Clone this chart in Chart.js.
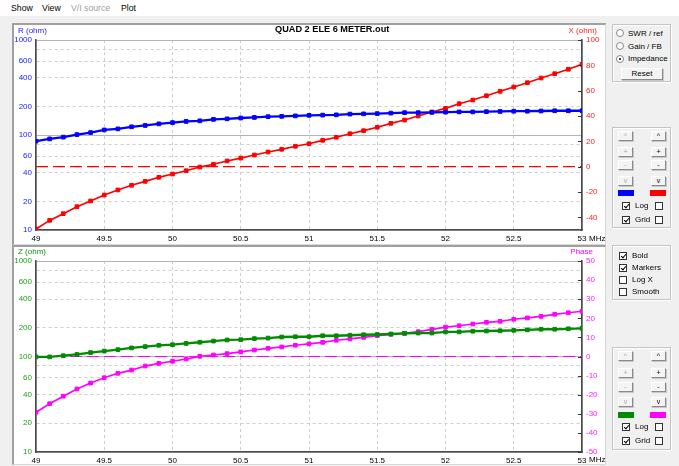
<!DOCTYPE html>
<html><head><meta charset="utf-8">
<script src="https://cdn.jsdelivr.net/npm/chart.js@4.4.1/dist/chart.umd.min.js"></script>
<style>
*{box-sizing:border-box}
html,body{margin:0;padding:0}
body{width:679px;height:466px;overflow:hidden;background:#f0f0f0;position:relative;font-family:"Liberation Sans",Arial,sans-serif;color:#000}
.a{position:absolute;white-space:nowrap}
#menu{left:0;top:0;width:679px;height:16px;background:#fff}
.mi{position:absolute;top:3px;font-size:8.7px;line-height:10px}
.panel{position:absolute;background:#fff;border-style:solid;border-color:#a0a0a0 #d8d8d8 #d8d8d8 #a0a0a0;border-width:2px 1px 1px 2px}
.gb{position:absolute;border:1px solid #c4c4c4;box-shadow:inset 1px 1px 0 #fff,1px 1px 0 #fff}
.btn{position:absolute;width:15px;height:10px;background:#f4f4f4;border:1px solid;border-color:#fff #8a8a8a #8a8a8a #fff;box-shadow:1px 1px 0 #c8c8c8;font-size:7px;line-height:8px;text-align:center;color:#000}
.btn.dis{color:#a8a8a8}
.sw{position:absolute;width:16px;height:6px}
.cb{position:absolute;width:8px;height:8px;border:1px solid #333;background:#fff}
.cb.on::after{content:"";position:absolute;left:2px;top:0px;width:2px;height:4px;border:solid #000;border-width:0 1.3px 1.3px 0;transform:rotate(40deg)}
.rb{position:absolute;width:8px;height:8px;border-radius:50%;border:1px solid #8a8a8a;background:#fff}
.rb.on::after{content:"";position:absolute;left:2px;top:2px;width:2px;height:2px;border-radius:50%;background:#000}
.t8{font-size:8px;line-height:9px}
canvas{position:absolute}
</style>
</head>
<body>
<div id="menu" class="a"></div>
<div class="mi" style="left:11px">Show</div>
<div class="mi" style="left:42px">View</div>
<div class="mi" style="left:71px;color:#a0a0a0">V/I source</div>
<div class="mi" style="left:121px">Plot</div>

<div class="panel" style="left:12px;top:23px;width:594px;height:222px"></div>
<div class="panel" style="left:12px;top:245px;width:594px;height:220px"></div>

<canvas id="c1" width="590" height="219" style="left:14px;top:25px"></canvas>
<canvas id="c2" width="590" height="219" style="left:14px;top:246px"></canvas>

<div class="a" style="left:275px;top:24px;font-size:9.2px;font-weight:bold;line-height:10px">QUAD 2 ELE 6 METER.out</div>
<div class="a t8" style="left:18px;top:26px;color:#2020ff">R (ohm)</div>
<div class="a t8" style="right:82px;top:26px;color:#ff2020">X (ohm)</div>
<div class="a t8" style="left:18px;top:247px;color:#109010">Z (ohm)</div>
<div class="a t8" style="right:86px;top:247px;color:#ff00ff">Phase</div>
<div class="a t8" style="left:589px;top:234px">MHz</div>
<div class="a t8" style="left:589px;top:455px">MHz</div>

<!-- box 1 -->
<div class="gb" style="left:612px;top:24px;width:59px;height:58px"></div>
<div class="rb" style="left:616px;top:29px"></div><div class="a t8" style="left:628px;top:29px">SWR / ref</div>
<div class="rb" style="left:616px;top:42px"></div><div class="a t8" style="left:628px;top:42px">Gain / FB</div>
<div class="rb on" style="left:616px;top:55px"></div><div class="a t8" style="left:628px;top:54px">Impedance</div>
<div class="btn" style="left:621px;top:68px;width:42px;height:12px;line-height:10px;font-size:8px">Reset</div>

<!-- box 2 -->
<div class="gb" style="left:612px;top:127px;width:59px;height:101px"></div>
<div class="btn dis" style="left:618px;top:131px">^</div><div class="btn" style="left:651px;top:131px">^</div>
<div class="btn dis" style="left:618px;top:147px">+</div><div class="btn" style="left:651px;top:147px">+</div>
<div class="btn dis" style="left:618px;top:160px">-</div><div class="btn" style="left:651px;top:160px">-</div>
<div class="btn dis" style="left:618px;top:176px">v</div><div class="btn" style="left:651px;top:176px">v</div>
<div class="sw" style="left:618px;top:190px;background:#0000ff"></div><div class="sw" style="left:650px;top:190px;background:#ff0000"></div>
<div class="cb on" style="left:622px;top:202px"></div><div class="a t8" style="left:635px;top:201px">Log</div><div class="cb" style="left:655px;top:202px"></div>
<div class="cb on" style="left:622px;top:216px"></div><div class="a t8" style="left:635px;top:215px">Grid</div><div class="cb" style="left:655px;top:216px"></div>

<!-- box 3 -->
<div class="gb" style="left:612px;top:245px;width:59px;height:55px"></div>
<div class="cb on" style="left:619px;top:252px"></div><div class="a t8" style="left:632px;top:251px">Bold</div>
<div class="cb on" style="left:619px;top:264px"></div><div class="a t8" style="left:632px;top:263px">Markers</div>
<div class="cb" style="left:619px;top:276px"></div><div class="a t8" style="left:632px;top:275px">Log X</div>
<div class="cb" style="left:619px;top:288px"></div><div class="a t8" style="left:632px;top:287px">Smooth</div>

<!-- box 4 -->
<div class="gb" style="left:612px;top:347px;width:59px;height:103px"></div>
<div class="btn dis" style="left:618px;top:351px">^</div><div class="btn" style="left:651px;top:351px">^</div>
<div class="btn dis" style="left:618px;top:368px">+</div><div class="btn" style="left:651px;top:368px">+</div>
<div class="btn dis" style="left:618px;top:382px">-</div><div class="btn" style="left:651px;top:382px">-</div>
<div class="btn dis" style="left:618px;top:397px">v</div><div class="btn" style="left:651px;top:397px">v</div>
<div class="sw" style="left:618px;top:412px;background:#008c00"></div><div class="sw" style="left:650px;top:412px;background:#ff00ff"></div>
<div class="cb on" style="left:622px;top:423px"></div><div class="a t8" style="left:635px;top:422px">Log</div><div class="cb" style="left:655px;top:423px"></div>
<div class="cb on" style="left:622px;top:437px"></div><div class="a t8" style="left:635px;top:436px">Grid</div><div class="cb" style="left:655px;top:437px"></div>

<script>
// ---- data ----
const freq = [49.0,49.1,49.2,49.3,49.4,49.5,49.6,49.7,49.8,49.9,50.0,50.1,50.2,50.3,50.4,50.5,50.6,50.7,50.8,50.9,51.0,51.1,51.2,51.3,51.4,51.5,51.6,51.7,51.8,51.9,52.0,52.1,52.2,52.3,52.4,52.5,52.6,52.7,52.8,52.9,53.0];
const rOhm = [86,91,95,101,106,113,116,122,126,131,135,139,141,146,148,151,153,156,157,159,161,162,163,166,167,168,170,172,172,173,174,175,175,176,177,178,178,179,180,180,180];
const xOhm = [-49.2,-42.4,-37.1,-31.6,-27.1,-22.4,-18.4,-14.7,-11.6,-8.4,-5.8,-3.2,-0.3,1.9,4.5,6.8,9.2,11.6,13.7,16.1,18.1,20.8,23.2,26.0,28.4,31.1,34.2,36.8,40.0,43.2,46.0,49.7,52.6,56.0,59.5,62.9,66.3,70.0,73.4,76.9,80.8];
const zOhm = [99,99,102,105,110,114,118,123,127,131,133,137,141,145,149,150,154,156,160,161,161,165,165,167,169,170,172,175,176,176,181,181,184,185,186,188,190,193,193,195,197];
const phaseDeg = [-29.2,-24.7,-20.8,-17.0,-13.9,-11.1,-8.8,-7.1,-5.0,-3.6,-2.5,-1.3,0.1,0.8,1.5,2.4,3.4,4.3,5.0,5.9,6.6,7.4,8.5,9.2,10.0,10.9,11.6,12.1,13.0,14.2,15.4,16.1,17.0,17.9,18.4,19.5,20.2,21.0,22.1,22.9,23.7];
const freqTicks = [49,49.5,50,50.5,51,51.5,52,52.5,53];
const freqTickLabels = ['49','49.5','50','50.5','51','51.5','52','52.5','53'];
const logTicks = [10,20,40,60,80,100,200,400,600,800,1000];
const logTickLabels = ['10','20','40','60','','100','200','400','600','','1000'];
const xOhmTicks = [-40,-20,0,20,40,60,80,100];
const phaseTicks = [-50,-40,-30,-20,-10,0,10,20,30,40,50];
const zeroLine = [0,0];

Chart.defaults.font.family = "'Liberation Sans', Arial, sans-serif";
Chart.defaults.font.size = 8;

const pts = ys => freq.map((f,i)=>({x:f,y:ys[i]}));
const zeroPts = () => [{x:freq[0],y:zeroLine[0]},{x:freq[freq.length-1],y:zeroLine[1]}];

const innerTicks = {
  id:'innerTicks',
  afterDraw(chart){
    const s = chart.scales.y2, ctx = chart.ctx;
    ctx.save(); ctx.strokeStyle='#333'; ctx.lineWidth=1;
    s.ticks.forEach(t=>{
      const y = Math.round(s.getPixelForValue(t.value))+0.5;
      ctx.beginPath(); ctx.moveTo(s.left-4,y); ctx.lineTo(s.left,y); ctx.stroke();
    });
    ctx.restore();
  }
};

function makeChart(id, o){
  const solid = v => v===100 || v===1000 || v===10;
  return new Chart(document.getElementById(id), {
    type:'line',
    data:{datasets:[
      {data:pts(o.left), yAxisID:'y', borderColor:o.lc, backgroundColor:o.lc, borderWidth:2.3,
       pointStyle:'rect', pointRadius:2.6, pointBorderWidth:1, tension:0, order:1},
      {data:pts(o.right), yAxisID:'y2', borderColor:o.rc, backgroundColor:o.rc, borderWidth:1.7,
       pointStyle:'rect', pointRadius:2.6, pointBorderWidth:1, tension:0, order:2},
      {data:zeroPts(), yAxisID:'y2', borderColor:o.rc, borderWidth:1.2, borderDash:[12,5],
       pointRadius:0, tension:0, order:5}
    ]},
    options:{
      responsive:false, animation:false, devicePixelRatio:1,
      layout:{padding:{top:15,left:0,right:0,bottom:0}},
      plugins:{legend:{display:false}, tooltip:{enabled:false}},
      scales:{
        x:{type:'linear', min:49, max:53,
          afterBuildTicks:s=>{s.ticks = freqTicks.map(v=>({value:v}));},
          afterFit:s=>{s.height = o.xh;},
          ticks:{color:'#000', padding:4, maxRotation:0, autoSkip:false,
            callback:(v,i)=>freqTickLabels[i]},
          grid:{color:'#cdcdcd', drawTicks:false, lineWidth:1},
          border:{color:'#4a4a4a', width:1.6, dash:c=>(c.tick && (c.tick.value===49||c.tick.value===53))?[]:[3,3]}
        },
        y:{type:'logarithmic', position:'left', min:10, max:1000,
          afterBuildTicks:s=>{s.ticks = logTicks.map(v=>({value:v}));},
          afterFit:s=>{s.width = 22;},
          ticks:{color:o.lt, padding:4, autoSkip:false, callback:(v,i)=>logTickLabels[i]},
          grid:{color:c=>(c.tick && solid(c.tick.value))?'#b4b4b4':'#cdcdcd', drawTicks:false, lineWidth:1},
          border:{color:'#4a4a4a', width:1.6, dash:c=>(c.tick && solid(c.tick.value))?[]:[3,3]}
        },
        y2:{type:'linear', position:'right', min:o.rmin, max:o.rmax,
          afterBuildTicks:s=>{s.ticks = o.rticks.map(v=>({value:v}));},
          afterFit:s=>{s.width = 22;},
          ticks:{color:o.rt, padding:4, autoSkip:false, callback:v=>String(v)},
          grid:{display:false, drawTicks:false},
          border:{color:'#4a4a4a', width:1.6}
        }
      }
    },
    plugins:[innerTicks]
  });
}

makeChart('c1', {left:rOhm, right:xOhm, lc:'#0000ff', rc:'#ff0000', lt:'#2020ff', rt:'#ff2020',
  rmin:-50, rmax:100, rticks:xOhmTicks, xh:14});
makeChart('c2', {left:zOhm, right:phaseDeg, lc:'#008c00', rc:'#ff00ff', lt:'#20a020', rt:'#ff20ff',
  rmin:-50, rmax:50, rticks:phaseTicks, xh:13});
</script>
</body></html>
